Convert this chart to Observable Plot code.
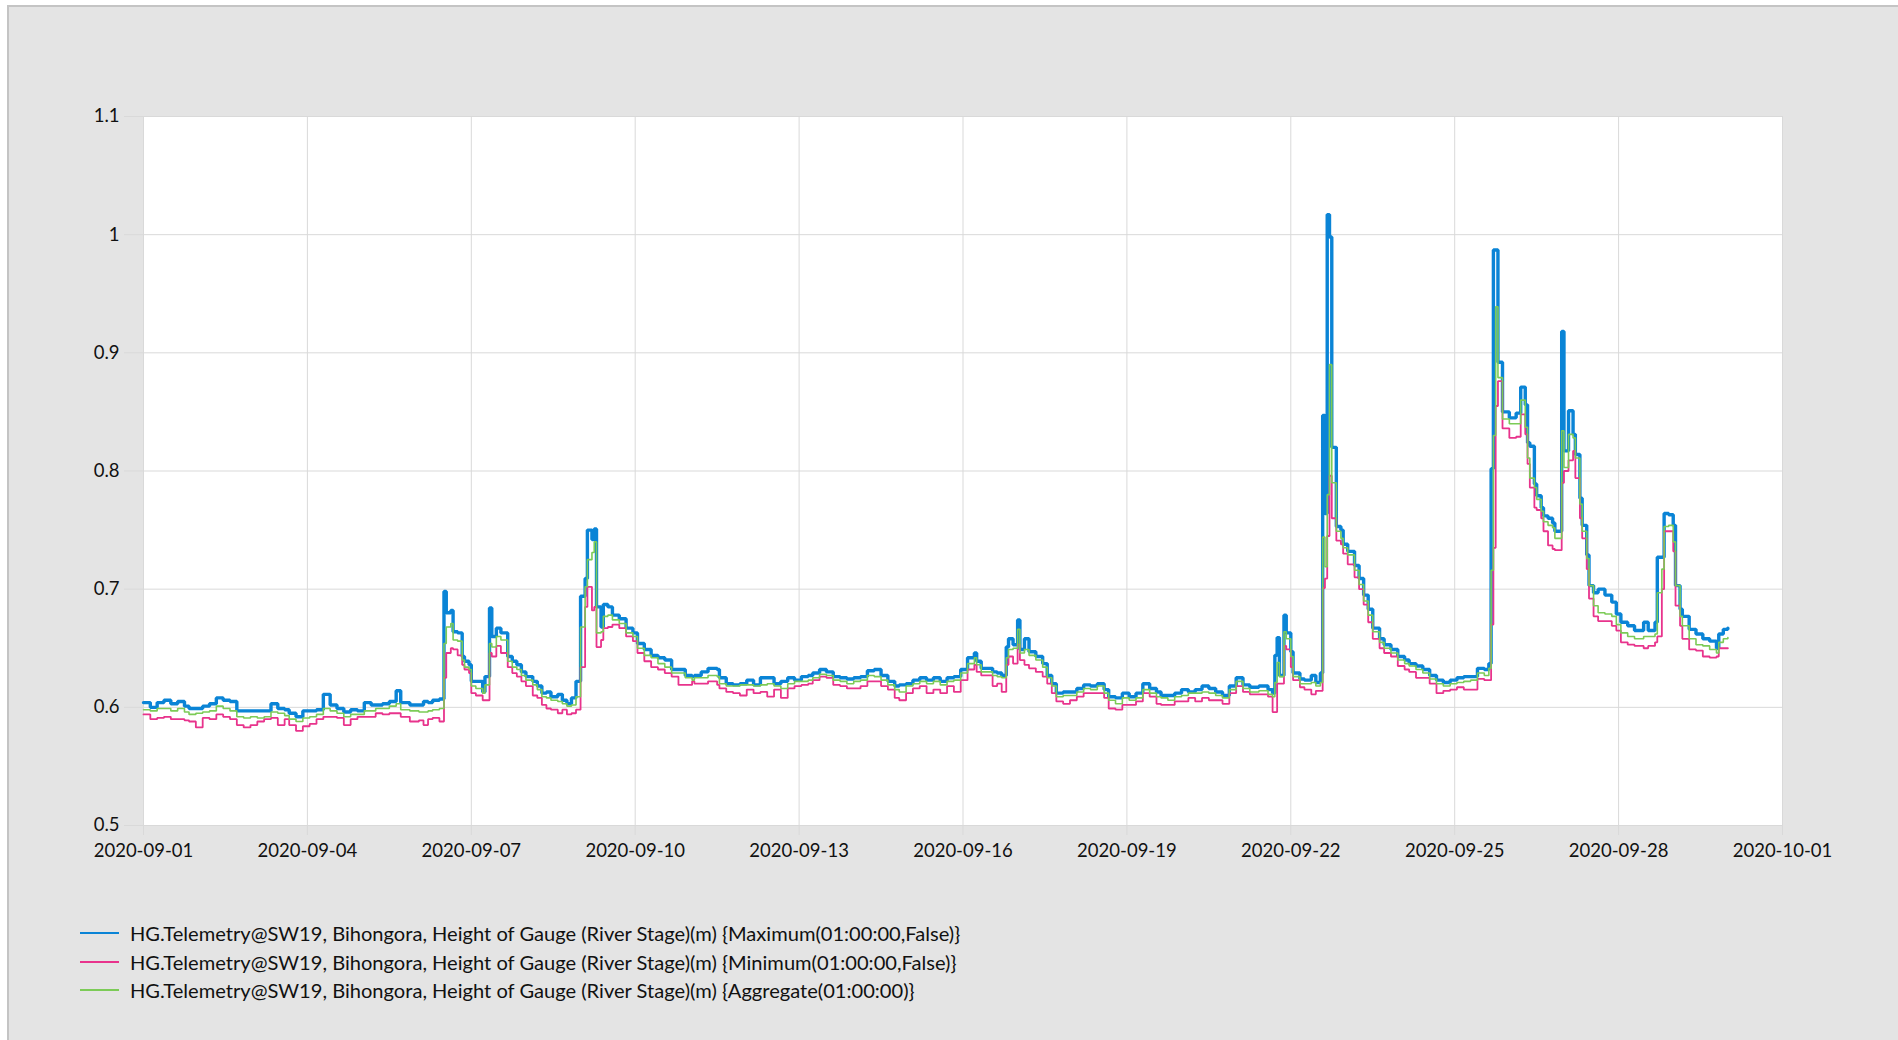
<!DOCTYPE html>
<html>
<head>
<meta charset="utf-8">
<script src="https://cdn.jsdelivr.net/npm/d3@7"></script>
<script src="https://cdn.jsdelivr.net/npm/@observablehq/plot@0.6"></script>
<style>
html, body { margin: 0; padding: 0; background: #ffffff; width: 1898px; height: 1040px; overflow: hidden; }
#frame { position: absolute; left: 7px; top: 5px; width: 1920px; height: 1060px; background: #e4e4e4; border: 2px solid #c4c4c4; box-sizing: border-box; }
#chart { position: absolute; left: 0; top: 0; }
#legend { position: absolute; left: 80px; top: 919px; font-family: Lato, "Open Sans", sans-serif; font-size: 20.1px; color: #111111; }
#legend .row { display: flex; align-items: center; height: 28.5px; white-space: nowrap; }
#legend .sw { width: 39px; height: 2px; margin-right: 11px; }
</style>
</head>
<body>
<div id="frame"></div>
<div id="chart"></div>
<div id="legend"></div>
<script>
// ---- data (hours since 2020-09-01 00:00 UTC, hourly river stage in m) ----
const startTime = "2020-09-01T00:00:00Z";
const hours = [
  0,3,6,9,12,15,18,20,23,26,29,32,35,38,41,44,47,50,53,56,59,62,64,67,70,73,76,79,82,85,88,91,94,97,100,102,105,108,111,113,117,
  121,123,125,127,130,132,133,135,136,138,140,141,143,144,146,149,150,152,153,155,157,160,162,164,166,168,171,173,175,177,179,182,184,186,188,190,192,194,195,197,198,199,201,202,204,206,209,212,215,217,220,223,226,229,232,235,238,241,
  242,245,248,252,253,256,259,262,265,268,271,274,277,280,283,286,289,292,294,297,300,303,306,309,312,315,318,321,324,327,330,332,335,338,341,344,347,350,353,356,359,
  362,365,366,368,373,375,377,379,380,382,384,385,387,389,392,395,397,399,401,404,407,410,413,416,419,422,424,427,430,433,436,439,442,445,447,450,453,456,459,462,465,468,471,474,477,480,483,
  486,490,494,496,497,498,499,501,502,504,505,508,510,513,515,517,518,519,520,521,522,524,526,527,529,532,534,536,538,540,543,545,548,551,554,556,559,562,565,568,571,574,577,580,583,586,589,591,592,593,594,595,597,600,
  603,605,607,608,609,611,612,614,615,617,619,620,623,624,626,628,629,631,632,634,635,637,639,642,645,647,649,652,655,659,661,664,665,667,668,670,672,673,675,676,679,682,685,688,691,692,694,696
];
const maxValues = [
  .604,.600,.604,.606,.603,.605,.601,.599,.599,.601,.603,.608,.606,.605,.597,.597,.597,.597,.597,.603,.599,.598,.595,.592,.597,.597,.598,.611,.602,.599,.596,.598,.597,.604,.602,.602,.603,.605,.614,.604,.602,
  .602,.605,.604,.606,.607,.698,.680,.682,.664,.663,.643,.639,.636,.622,.622,.613,.626,.684,.660,.667,.663,.643,.639,.636,.630,.626,.622,.618,.612,.613,.609,.611,.606,.603,.608,.622,.694,.709,.750,.742,.751,.685,.668,.687,.685,.678,.675,.667,.663,.654,.649,.644,.642,.640,.632,.632,.627,.626,
  .627,.630,.633,.632,.625,.620,.619,.620,.623,.619,.625,.625,.620,.622,.625,.623,.626,.627,.629,.632,.630,.626,.625,.624,.625,.626,.631,.632,.627,.622,.618,.619,.620,.623,.625,.623,.625,.622,.625,.626,.632,
  .642,.646,.639,.633,.630,.629,.627,.651,.658,.653,.674,.649,.658,.647,.643,.637,.627,.620,.612,.613,.613,.616,.619,.618,.620,.615,.609,.608,.612,.609,.612,.620,.616,.613,.610,.610,.612,.615,.613,.615,.618,.616,.613,.610,.618,.625,.619,
  .617,.618,.615,.612,.644,.659,.627,.678,.663,.647,.629,.624,.623,.627,.621,.629,.847,.764,1.017,.998,.820,.753,.750,.738,.732,.720,.709,.695,.683,.667,.658,.653,.649,.643,.640,.637,.635,.632,.627,.623,.621,.623,.625,.626,.626,.633,.632,.637,.802,.987,.987,.892,.850,.845,
  .849,.871,.856,.824,.821,.789,.779,.769,.762,.760,.756,.749,.918,.817,.851,.831,.814,.777,.754,.729,.703,.697,.700,.695,.689,.679,.672,.669,.665,.672,.665,.672,.727,.727,.764,.763,.754,.703,.683,.677,.666,.662,.658,.656,.650,.662,.666,.667
];
const minValues = [
  .594,.590,.591,.592,.590,.590,.589,.588,.583,.591,.590,.594,.592,.590,.585,.583,.585,.588,.590,.591,.585,.590,.585,.580,.584,.586,.590,.592,.592,.591,.585,.590,.592,.592,.592,.595,.594,.595,.595,.592,.588,
  .589,.585,.590,.591,.588,.625,.646,.650,.649,.644,.636,.632,.629,.612,.610,.606,.606,.646,.643,.652,.646,.634,.629,.626,.622,.618,.610,.608,.602,.599,.598,.595,.598,.594,.595,.598,.634,.685,.702,.682,.685,.651,.657,.667,.668,.670,.667,.660,.656,.646,.639,.634,.632,.629,.626,.619,.619,.622,
  .620,.620,.622,.619,.616,.613,.612,.610,.615,.612,.613,.609,.615,.608,.616,.618,.619,.620,.623,.626,.625,.619,.618,.616,.616,.618,.622,.622,.618,.615,.608,.606,.612,.616,.618,.612,.615,.612,.618,.613,.623,
  .632,.636,.630,.627,.618,.620,.613,.636,.643,.637,.653,.640,.636,.633,.630,.626,.620,.612,.605,.603,.606,.609,.612,.612,.612,.608,.599,.598,.602,.602,.605,.612,.609,.603,.602,.602,.605,.605,.608,.605,.608,.606,.606,.603,.612,.618,.613,
  .611,.611,.609,.596,.596,.620,.620,.652,.649,.634,.623,.617,.615,.611,.614,.614,.701,.709,.745,.796,.760,.741,.738,.730,.721,.710,.700,.687,.672,.658,.650,.646,.643,.635,.632,.630,.625,.625,.620,.612,.614,.615,.617,.615,.615,.624,.623,.623,.670,.735,.855,.876,.836,.828,
  .829,.848,.831,.806,.786,.769,.767,.760,.749,.737,.734,.733,.790,.800,.809,.817,.794,.760,.743,.717,.692,.677,.673,.673,.669,.665,.655,.653,.652,.650,.652,.655,.660,.700,.749,.749,.732,.686,.669,.658,.649,.648,.643,.642,.643,.650,.650,.650
];
const aggValues = [
  .598,.597,.599,.599,.597,.599,.596,.594,.595,.596,.597,.601,.599,.597,.592,.591,.592,.591,.592,.596,.595,.593,.590,.588,.591,.592,.594,.599,.597,.595,.592,.594,.594,.597,.597,.599,.599,.601,.603,.598,.597,
  .596,.596,.597,.598,.599,.654,.668,.671,.657,.656,.640,.634,.632,.618,.616,.612,.619,.654,.651,.660,.657,.639,.634,.632,.627,.623,.619,.615,.609,.608,.606,.605,.603,.601,.602,.609,.668,.702,.725,.731,.740,.663,.664,.677,.678,.674,.671,.663,.660,.650,.644,.642,.637,.634,.629,.629,.625,.623,
  .625,.625,.627,.626,.620,.618,.618,.619,.619,.618,.619,.620,.618,.616,.620,.622,.622,.623,.625,.628,.627,.623,.622,.620,.622,.623,.627,.626,.623,.619,.615,.613,.618,.620,.622,.620,.622,.619,.622,.623,.629,
  .637,.642,.636,.630,.627,.626,.625,.642,.649,.650,.666,.646,.649,.644,.640,.634,.625,.618,.609,.610,.610,.613,.616,.615,.618,.612,.606,.603,.608,.606,.608,.615,.612,.609,.608,.606,.609,.610,.612,.612,.613,.612,.610,.608,.615,.622,.616,
  .613,.614,.611,.609,.621,.638,.626,.664,.658,.643,.626,.620,.620,.621,.618,.621,.744,.719,.780,.890,.790,.749,.743,.735,.729,.716,.704,.690,.678,.664,.655,.650,.646,.640,.637,.635,.632,.629,.624,.620,.618,.620,.621,.622,.623,.629,.627,.633,.716,.830,.939,.879,.844,.840,
  .840,.860,.837,.811,.794,.786,.776,.766,.757,.754,.752,.743,.834,.803,.831,.828,.811,.772,.749,.726,.703,.686,.680,.679,.677,.670,.663,.660,.658,.660,.660,.662,.697,.717,.753,.754,.740,.703,.677,.669,.658,.653,.652,.649,.646,.655,.658,.659
];
const seriesNames = [
  "HG.Telemetry@SW19, Bihongora, Height of Gauge (River Stage)(m) {Maximum(01:00:00,False)}",
  "HG.Telemetry@SW19, Bihongora, Height of Gauge (River Stage)(m) {Minimum(01:00:00,False)}",
  "HG.Telemetry@SW19, Bihongora, Height of Gauge (River Stage)(m) {Aggregate(01:00:00)}"
];
const yTicks = [0.5, 0.6, 0.7, 0.8, 0.9, 1.0, 1.1];
const yTickLabels = ["0.5", "0.6", "0.7", "0.8", "0.9", "1", "1.1"];
const xTickLabels = ["2020-09-01","2020-09-04","2020-09-07","2020-09-10","2020-09-13","2020-09-16","2020-09-19","2020-09-22","2020-09-25","2020-09-28","2020-10-01"];

// ---- styles ----
const colors = ["#0a84d6", "#e8338c", "#7ccb57"];
const widths = [3.4, 1.8, 1.6];
const gridColor = "#d9d9d9";

const t0 = new Date(startTime).getTime();
const toSeries = vals => hours.map((h, i) => ({ t: new Date(t0 + h * 3600e3), v: vals[i] }));
const series = [maxValues, minValues, aggValues].map(toSeries);
const xTicks = xTickLabels.map(s => new Date(s + "T00:00:00Z"));

const chart = Plot.plot({
  width: 1898,
  height: 870,
  marginLeft: 143,
  marginRight: 116,
  marginTop: 116,
  marginBottom: 45,
  style: { background: "transparent", fontFamily: "Lato, 'Open Sans', sans-serif", fontSize: "18.5px", color: "#111111", overflow: "visible" },
  x: { type: "utc", domain: [xTicks[0], xTicks[xTicks.length - 1]] },
  y: { domain: [yTicks[0], yTicks[yTicks.length - 1]] },
  marks: [
    Plot.frame({ fill: "white", stroke: gridColor }),
    Plot.gridY(yTicks, { stroke: gridColor, strokeOpacity: 1 }),
    Plot.gridX(xTicks, { stroke: gridColor, strokeOpacity: 1 }),
    Plot.axisY(yTicks, { tickSize: 19, tickPadding: 5, stroke: gridColor, fill: "#111111", tickFormat: (d, i) => yTickLabels[i], label: null }),
    Plot.axisX(xTicks, { tickSize: 10, tickPadding: 8, stroke: gridColor, fill: "#111111", tickFormat: (d, i) => xTickLabels[i], label: null }),
    ...series.map((s, k) => Plot.line(s, { x: "t", y: "v", stroke: colors[k], strokeWidth: widths[k], curve: "step-after", strokeLinejoin: "miter" }))
  ]
});
document.getElementById("chart").appendChild(chart);

const legend = document.getElementById("legend");
seriesNames.forEach((name, k) => {
  const row = document.createElement("div");
  row.className = "row";
  const sw = document.createElement("span");
  sw.className = "sw";
  sw.style.background = colors[k];
  const label = document.createElement("span");
  label.textContent = name;
  row.appendChild(sw);
  row.appendChild(label);
  legend.appendChild(row);
});
</script>
</body>
</html>
